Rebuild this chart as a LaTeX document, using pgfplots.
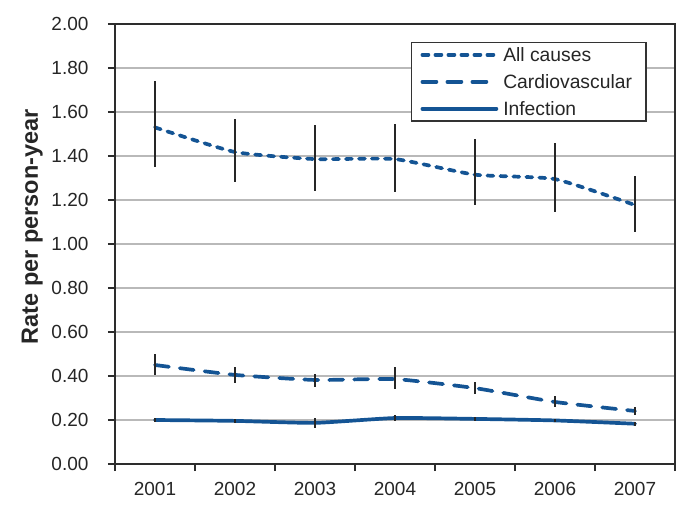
\documentclass[border=0pt]{standalone}
\usepackage{pgfplots}
\pgfplotsset{compat=1.18}
\usepackage{fontspec}
\setmainfont{Liberation Sans}
\definecolor{serblue}{RGB}{20,84,148}
\definecolor{axgray}{RGB}{45,45,45}
\definecolor{gridgray}{RGB}{185,185,185}
\begin{document}
\begin{tikzpicture}
\useasboundingbox (-115bp,-56bp) rectangle (578bp,464bp);
\begin{axis}[
  name=ax,
  at={(0,0)}, anchor=south west,
  scale only axis, width=560bp, height=440bp,
  clip=false,
  xmin=-0.5, xmax=6.5, ymin=0, ymax=2,
  xtick={0,1,2,3,4,5,6},
  xticklabels={2001,2002,2003,2004,2005,2006,2007},
  minor xtick={-0.5,0.5,1.5,2.5,3.5,4.5,5.5,6.5},
  major x tick style={draw=none},
  ytick={0,0.2,0.4,0.6,0.8,1.0,1.2,1.4,1.6,1.8,2.0},
  ymajorgrids, grid style={gridgray, line width=1.3bp},
  tick align=outside,
  xtick pos=bottom, ytick pos=left,
  major tick length=7bp, minor tick length=7bp,
  axis line style={axgray, line width=1.4bp},
  tick style={axgray, line width=1.3bp},
  minor tick style={axgray, line width=1.3bp},
  ticklabel style={font=\fontsize{19bp}{22bp}\selectfont, text=black!85},
  xticklabel style={yshift=-8bp},
  yticklabel style={xshift=-16bp, /pgf/number format/.cd, fixed, fixed zerofill, precision=2},
  /pgf/number format/assume math mode=true,
  ylabel={Rate per person-year},
  ylabel style={font=\bfseries\fontsize{23.5bp}{26bp}\selectfont, text=black!85, at={(axis description cs:-0.148,0.539)}, anchor=center},
  legend style={at={(0.5286,0.959)}, anchor=north west, draw=black!80, line width=1.1bp,
    font=\fontsize{19.3bp}{22bp}\selectfont, text=black!85, inner xsep=9bp, inner ysep=2.5bp, row sep=7.5bp,
    nodes={inner ysep=2bp, inner xsep=5bp}},
  legend cell align=left,
  legend image code/.code={\draw[#1] (0bp,0bp) -- (74bp,0bp);},
]
\addplot[serblue, line width=3.7bp, smooth, tension=0.3, line cap=round, dash pattern=on 6bp off 7bp,
  error bars/.cd, y dir=both, y explicit, error mark=none,
  error bar style={black!85, line width=1.3bp, solid, line cap=butt}]
  table[x=x, y=y, y error plus=ep, y error minus=em] {
x y ep em
0 1.530 0.210 0.180
1 1.418 0.150 0.138
2 1.386 0.155 0.145
3 1.386 0.160 0.150
4 1.315 0.160 0.140
5 1.295 0.165 0.150
6 1.177 0.133 0.122
};
\addlegendentry{All causes}
\addplot[serblue, line width=3.7bp, smooth, tension=0.3, line cap=round, dash pattern=on 14bp off 11bp,
  error bars/.cd, y dir=both, y explicit, error mark=none,
  error bar style={black!85, line width=1.3bp, solid, line cap=butt}]
  table[x=x, y=y, y error plus=ep, y error minus=em] {
x y ep em
0 0.450 0.050 0.045
1 0.405 0.035 0.035
2 0.382 0.028 0.032
3 0.386 0.054 0.046
4 0.345 0.028 0.025
5 0.282 0.028 0.022
6 0.241 0.018 0.018
};
\addlegendentry{Cardiovascular}
\addplot[serblue, line width=3.7bp, smooth, tension=0.3, line cap=round,
  error bars/.cd, y dir=both, y explicit, error mark=none,
  error bar style={black!85, line width=1.3bp, solid, line cap=butt}]
  table[x=x, y=y, y error plus=ep, y error minus=em] {
x y ep em
0 0.200 0.010 0.010
1 0.196 0.008 0.008
2 0.187 0.022 0.025
3 0.209 0.014 0.014
4 0.205 0.010 0.010
5 0.198 0.008 0.008
6 0.183 0.008 0.008
};
\addlegendentry{Infection}
\end{axis}
\draw[axgray, line width=1.6bp] (0bp,0bp) rectangle (560bp,440bp);
\end{tikzpicture}
\end{document}
